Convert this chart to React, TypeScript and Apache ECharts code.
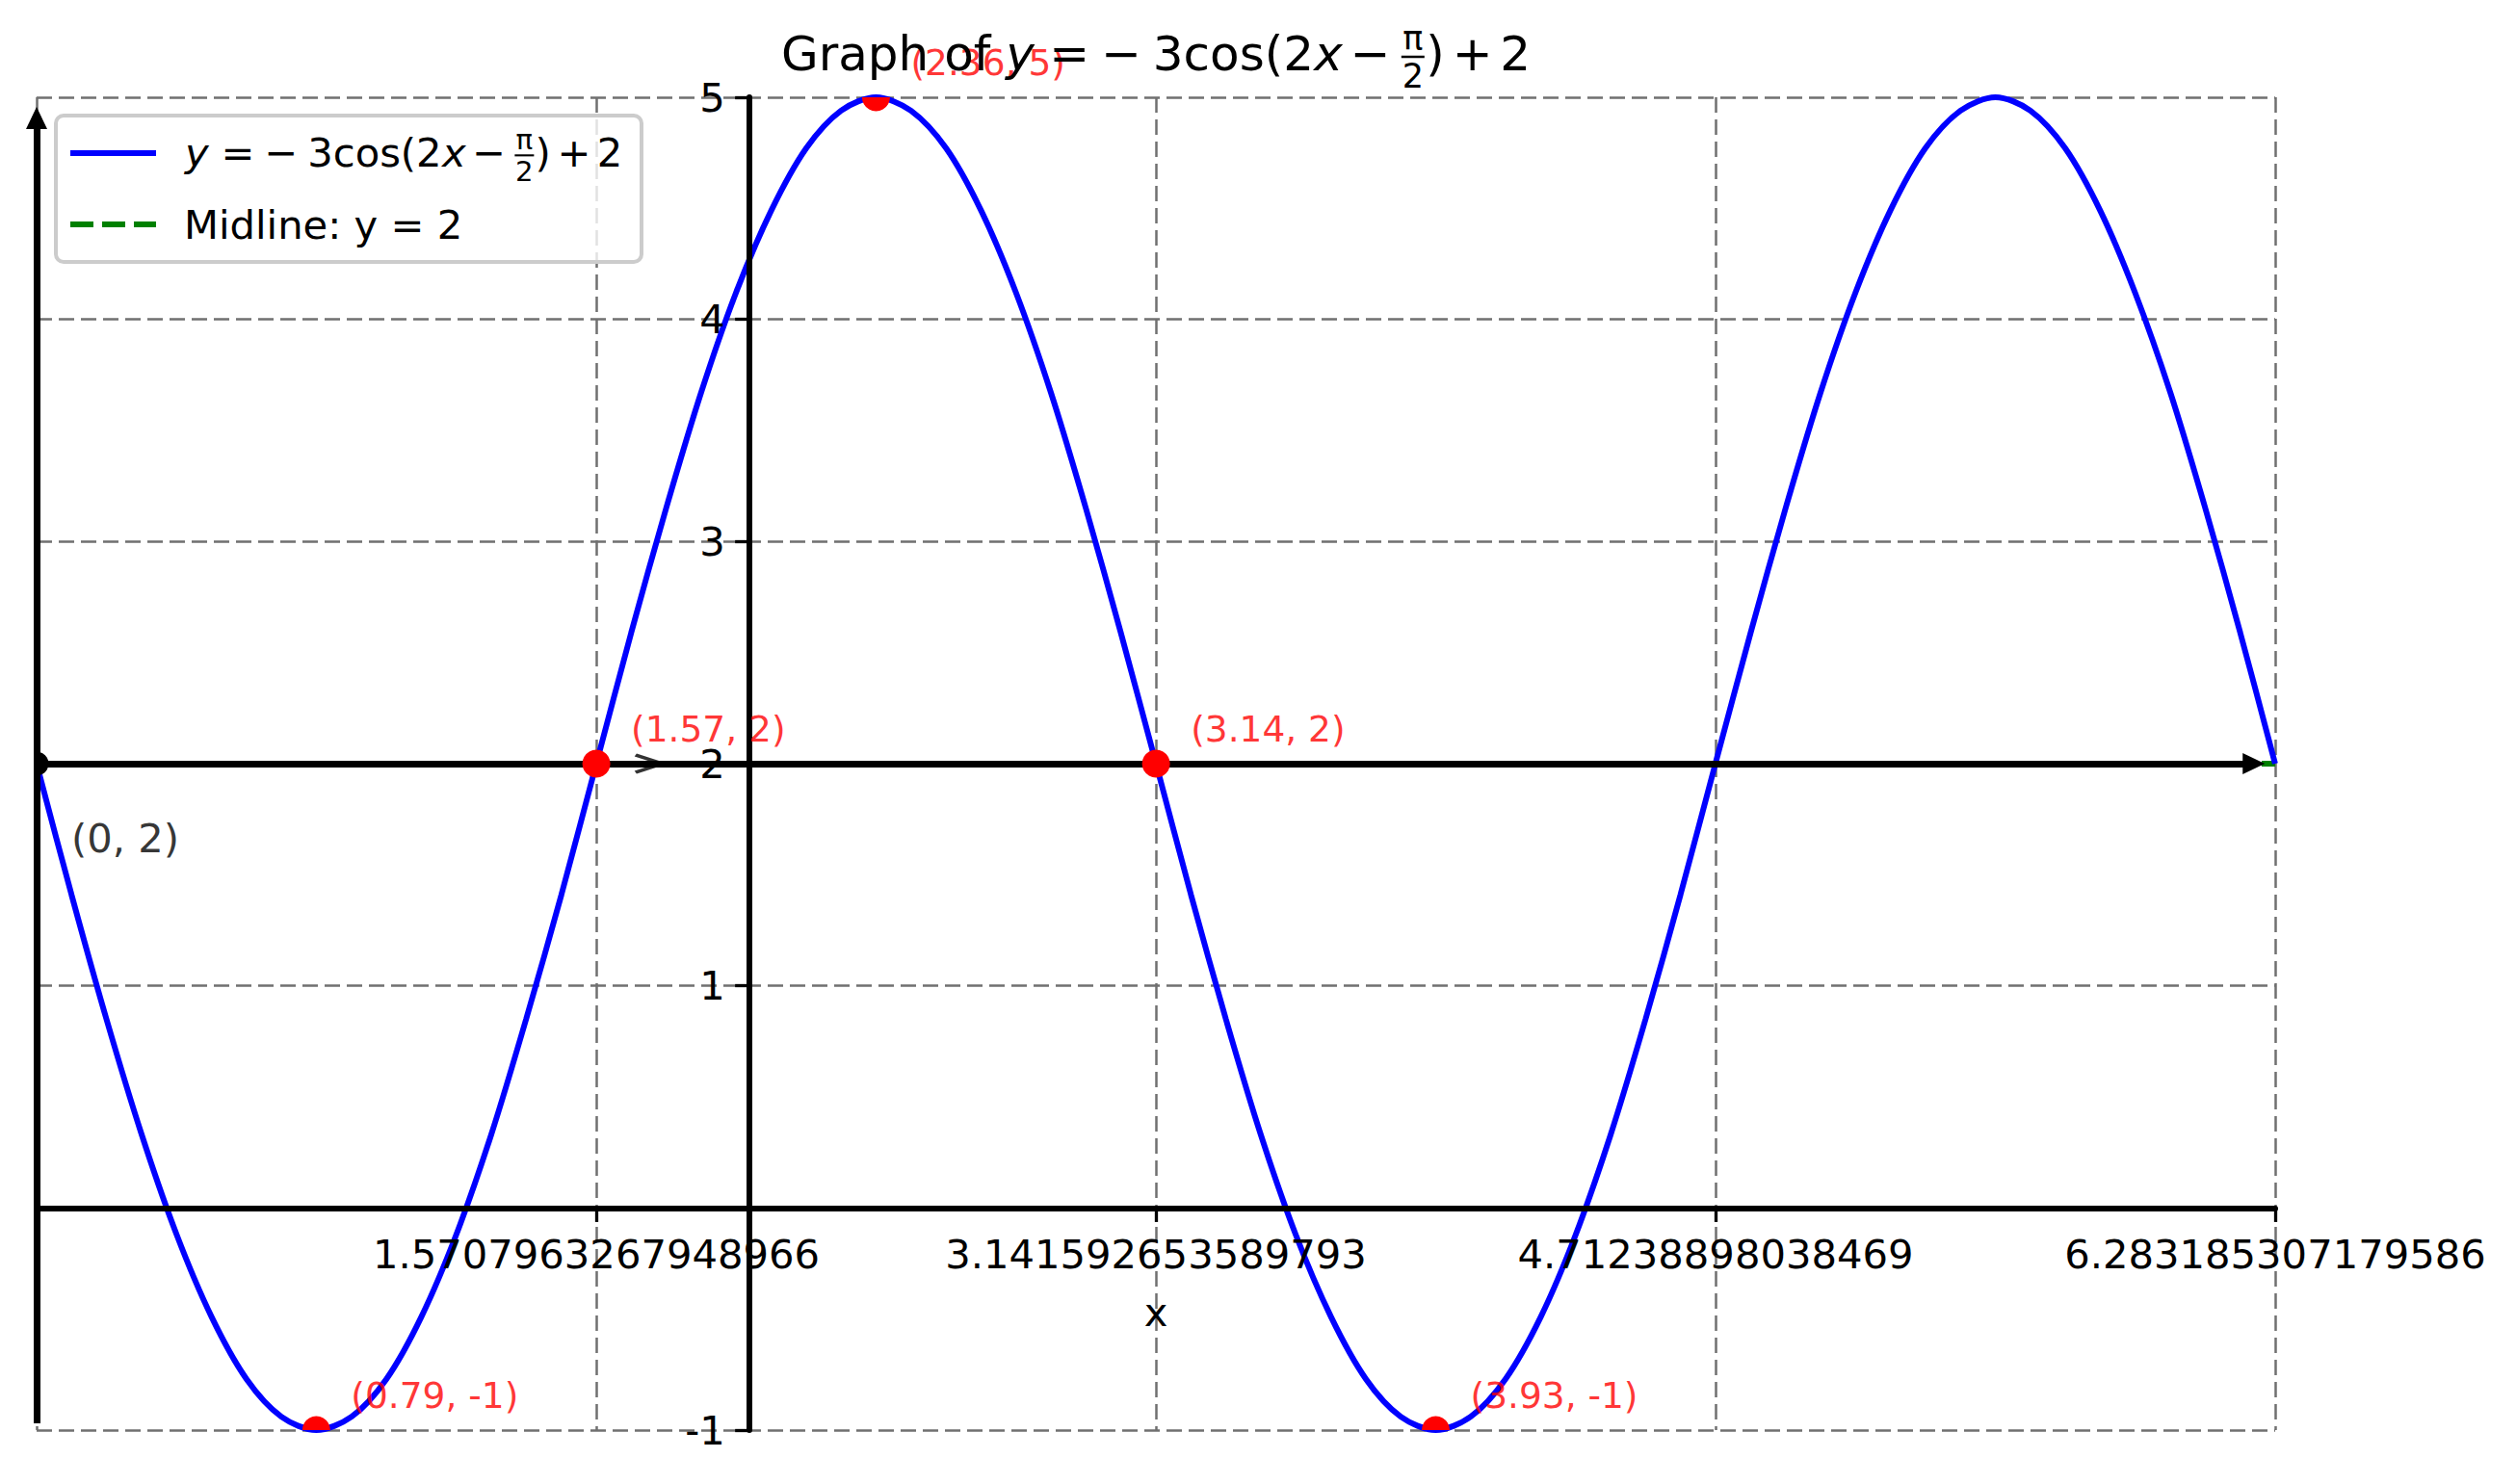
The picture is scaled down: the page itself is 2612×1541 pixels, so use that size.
import React, { useEffect, useRef } from "react";
import * as echarts from "echarts";

// ---------------- data ----------------
const CURVE_X = [0, 0.098, 0.196, 0.295, 0.393, 0.491, 0.589, 0.687, 0.785, 0.884, 0.982, 1.08, 1.178, 1.276, 1.374, 1.473, 1.571, 1.669, 1.767, 1.865, 1.963, 2.062, 2.16, 2.258, 2.356, 2.454, 2.553, 2.651, 2.749, 2.847, 2.945, 3.043, 3.142, 3.24, 3.338, 3.436, 3.534, 3.633, 3.731, 3.829, 3.927, 4.025, 4.123, 4.222, 4.32, 4.418, 4.516, 4.614, 4.712, 4.811, 4.909, 5.007, 5.105, 5.203, 5.301, 5.4, 5.498, 5.596, 5.694, 5.792, 5.89, 5.989, 6.087, 6.185, 6.283];
const CURVE_Y = [2, 1.41, 0.85, 0.33, -0.12, -0.49, -0.77, -0.94, -1, -0.94, -0.77, -0.49, -0.12, 0.33, 0.85, 1.41, 2, 2.59, 3.15, 3.67, 4.12, 4.49, 4.77, 4.94, 5, 4.94, 4.77, 4.49, 4.12, 3.67, 3.15, 2.59, 2, 1.41, 0.85, 0.33, -0.12, -0.49, -0.77, -0.94, -1, -0.94, -0.77, -0.49, -0.12, 0.33, 0.85, 1.41, 2, 2.59, 3.15, 3.67, 4.12, 4.49, 4.77, 4.94, 5, 4.94, 4.77, 4.49, 4.12, 3.67, 3.15, 2.59, 2];

const MIDLINE_X = [0, 6.283];
const MIDLINE_Y = [2, 2];

const KEY_X = [0.785, 1.571, 2.356, 3.142, 3.927];
const KEY_Y = [-1, 2, 5, 2, -1];
const KEY_LABELS = ["(0.79, -1)", "(1.57, 2)", "(2.36, 5)", "(3.14, 2)", "(3.93, -1)"];

const START_X = [0];
const START_Y = [2];
const START_LABELS = ["(0, 2)"];

const CHEVRON_X = [1.719];
const CHEVRON_Y = [2];

const H_ARROW = [[0, 2], [6.223, 2]];
const V_ARROW = [[0, -0.97], [0, 4.907]];

const X_TICK_LABELS = ["1.5707963267948966", "3.141592653589793", "4.71238898038469", "6.283185307179586"];
const X_MIN = 0;
const X_MAX = 2 * Math.PI;
const X_STEP = Math.PI / 2;
const Y_MIN = -1;
const Y_MAX = 5;
const Y_STEP = 1;
const Y_AXIS_AT_X = 2;
const X_AXIS_AT_Y = 0;

const TITLE_PREFIX = "Graph of ";
const X_NAME = "x";
const LEGEND_MIDLINE = "Midline: y = 2";
const EQ_PIECES = [
  { t: "y", dx: 0, italic: true },
  { t: "=", dx: 0.9 },
  { t: "\u2212", dx: 1.98 },
  { t: "3cos(2", dx: 3.05 },
  { t: "x", dx: 6.4, italic: true },
  { t: "\u2212", dx: 7.15 },
  { t: ")", dx: 8.72 },
  { t: "+", dx: 9.27 },
  { t: "2", dx: 10.26 },
];
const FRAC_NUM = "\u03c0";
const FRAC_DEN = "2";

// ---------------- layout ----------------
const FONT = "DejaVu Sans";
const GRID_L = 38;
const GRID_T = 101;
const GRID_W = 2324;
const GRID_H = 1384;

const mid = (baseline: number, fs: number) => baseline - 0.346 * fs;

function formulaElements(originX: number, baseline: number, fs: number, z: number) {
  const els: any[] = [];
  for (const p of EQ_PIECES) {
    els.push({
      type: "text",
      z,
      x: originX + p.dx * fs,
      y: mid(baseline, fs),
      style: {
        text: p.t,
        fontSize: fs,
        fontFamily: FONT,
        fontStyle: p.italic ? "italic" : "normal",
        fill: "#000",
        align: "left",
        verticalAlign: "middle",
        textAlign: "left",
        textVerticalAlign: "middle",
      },
    });
  }
  const cx = originX + 8.45 * fs;
  const ff = fs * 0.7;
  els.push({
    type: "text",
    z,
    x: cx,
    y: mid(baseline - 0.42 * fs, ff),
    style: { text: FRAC_NUM, fontSize: ff, fontFamily: FONT, fill: "#000", align: "center", verticalAlign: "middle", textAlign: "center", textVerticalAlign: "middle" },
  });
  els.push({
    type: "text",
    z,
    x: cx,
    y: mid(baseline + 0.37 * fs, ff),
    style: { text: FRAC_DEN, fontSize: ff, fontFamily: FONT, fill: "#000", align: "center", verticalAlign: "middle", textAlign: "center", textVerticalAlign: "middle" },
  });
  const th = Math.max(2, 0.05 * fs);
  els.push({
    type: "rect",
    z,
    shape: { x: cx - 0.24 * fs, y: baseline - 0.28 * fs - th / 2, width: 0.48 * fs, height: th },
    style: { fill: "#000" },
  });
  return els;
}

export default function App() {
  const ref = useRef<HTMLDivElement>(null);

  useEffect(() => {
    if (!ref.current) return;
    const chart = echarts.init(ref.current, undefined, { renderer: "svg" });

    const gridLine = { show: true, lineStyle: { color: "#707070", width: 2.5, type: [16, 7] as any } };
    const tickStyle = { show: true, length: 14.6, lineStyle: { color: "#000", width: 3.3 } };
    const labelStyle = { color: "#000", fontSize: 41.7, fontFamily: FONT };

    const titleFs = 50;
    const titleWidth = (4.668 + 10.896) * titleFs;
    const titleX0 = GRID_L + GRID_W / 2 - titleWidth / 2;
    const titleBase = 73;
    const legendFs = 41.7;

    const graphics: any[] = [
      {
        type: "text",
        z: 20,
        x: titleX0,
        y: mid(titleBase, titleFs),
        style: { text: TITLE_PREFIX, fontSize: titleFs, fontFamily: FONT, fill: "#000", align: "left", verticalAlign: "middle", textAlign: "left", textVerticalAlign: "middle" },
      },
      ...formulaElements(titleX0 + 4.668 * titleFs, titleBase, titleFs, 20),
      {
        type: "rect",
        z: 20,
        shape: { x: 58, y: 120, width: 608, height: 152, r: 8 },
        style: { fill: "rgba(255,255,255,0.8)", stroke: "#cccccc", lineWidth: 4 },
      },
      {
        type: "line",
        z: 21,
        shape: { x1: 73, y1: 159, x2: 162, y2: 159 },
        style: { stroke: "#0000ff", lineWidth: 6 },
      },
      {
        type: "line",
        z: 21,
        shape: { x1: 73, y1: 233, x2: 162, y2: 233 },
        style: { stroke: "#008000", lineWidth: 6, lineDash: [24, 9] },
      },
      ...formulaElements(192, 173, legendFs, 21),
      {
        type: "text",
        z: 21,
        x: 191,
        y: mid(248, legendFs),
        style: { text: LEGEND_MIDLINE, fontSize: legendFs, fontFamily: FONT, fill: "#000", align: "left", verticalAlign: "middle", textAlign: "left", textVerticalAlign: "middle" },
      },
    ];

    const fmtX = (v: number) => {
      const i = Math.round(v / X_STEP);
      return i >= 1 ? X_TICK_LABELS[i - 1] ?? "" : "";
    };

    const option: any = {
      animation: false,
      textStyle: { fontFamily: FONT },
      legend: { show: false },
      grid: {
        left: GRID_L, top: GRID_T, width: GRID_W, height: GRID_H,
        containLabel: false, outerBoundsMode: "none", show: false,
      },
      xAxis: [
        {
          type: "value", min: X_MIN, max: X_MAX, interval: X_STEP, position: "bottom", z: 0,
          axisLine: { show: false, onZero: false }, axisTick: { show: false }, axisLabel: { show: false },
          splitLine: gridLine,
        },
        {
          type: "value", min: X_MIN, max: X_MAX, interval: X_STEP, position: "bottom", z: 10,
          offset: -(GRID_H * (X_AXIS_AT_Y - Y_MIN)) / (Y_MAX - Y_MIN),
          axisLine: { show: true, onZero: false, lineStyle: { color: "#000", width: 6 } },
          axisTick: tickStyle,
          axisLabel: { ...labelStyle, margin: 27, formatter: fmtX, showMinLabel: true, showMaxLabel: true, interval: 0 },
          splitLine: { show: false },
          name: X_NAME, nameLocation: "middle", nameGap: 87,
          nameTextStyle: { ...labelStyle },
        },
      ],
      yAxis: [
        {
          type: "value", min: Y_MIN, max: Y_MAX, interval: Y_STEP, position: "left", z: 0,
          axisLine: { show: false, onZero: false }, axisTick: { show: false }, axisLabel: { show: false },
          splitLine: gridLine,
        },
        {
          type: "value", min: Y_MIN, max: Y_MAX, interval: Y_STEP, position: "left", z: 10,
          offset: -(GRID_W * (Y_AXIS_AT_X - X_MIN)) / (X_MAX - X_MIN),
          axisLine: { show: true, onZero: false, lineStyle: { color: "#000", width: 6 } },
          axisTick: tickStyle,
          axisLabel: { ...labelStyle, margin: 25, formatter: (v: number) => (v === 0 ? "" : String(v)) },
          splitLine: { show: false },
        },
      ],
      series: [
        {
          type: "line", name: "midline", xAxisIndex: 0, yAxisIndex: 0, z: 3, silent: true,
          data: MIDLINE_X.map((x, i) => [x, MIDLINE_Y[i]]),
          symbol: "none", clip: false,
          lineStyle: { color: "#008000", width: 6, type: [24, 9] },
        },
        {
          type: "line", name: "curve", xAxisIndex: 0, yAxisIndex: 0, z: 3, silent: true,
          data: CURVE_X.map((x, i) => [x, CURVE_Y[i]]),
          symbol: "none", smooth: 0.3, clip: true,
          lineStyle: { color: "#0000ff", width: 6 },
        },
        {
          type: "line", name: "arrows", xAxisIndex: 0, yAxisIndex: 0, z: 4, silent: true, clip: false,
          data: [],
          markLine: {
            silent: true,
            symbol: ["none", "triangle"],
            symbolSize: [22, 23],
            label: { show: false },
            emphasis: { disabled: true },
            lineStyle: { color: "#000", width: 7, type: "solid", opacity: 1 },
            data: [
              [{ coord: H_ARROW[0] }, { coord: H_ARROW[1] }],
              [{ coord: V_ARROW[0] }, { coord: V_ARROW[1] }],
            ],
          },
        },
        {
          type: "custom", name: "keydots", coordinateSystem: "cartesian2d", xAxisIndex: 0, yAxisIndex: 0,
          z: 5, silent: true, clip: true,
          data: KEY_X.map((x, i) => [x, KEY_Y[i]]),
          renderItem: (params: any, api: any) => {
            const p = api.coord([api.value(0), api.value(1)]);
            return { type: "circle", shape: { cx: p[0], cy: p[1], r: 14.5 }, style: { fill: "#ff0000" } };
          },
        },
        {
          type: "custom", name: "startdot", coordinateSystem: "cartesian2d", xAxisIndex: 0, yAxisIndex: 0,
          z: 5, silent: true, clip: true,
          data: START_X.map((x, i) => [x, START_Y[i]]),
          renderItem: (params: any, api: any) => {
            const p = api.coord([api.value(0), api.value(1)]);
            return { type: "circle", shape: { cx: p[0], cy: p[1], r: 12.5 }, style: { fill: "#000000" } };
          },
        },
        {
          type: "scatter", name: "chevron", xAxisIndex: 0, yAxisIndex: 0, z: 6, silent: true, clip: false,
          data: CHEVRON_X.map((x, i) => [x, CHEVRON_Y[i]]),
          symbol: "path://M0,0L28,9L0,18",
          symbolSize: [28, 18],
          itemStyle: { color: "none", borderColor: "#000", borderWidth: 4 },
        },
        {
          type: "scatter", name: "keylabels", xAxisIndex: 0, yAxisIndex: 0, z: 12, silent: true, clip: false,
          data: KEY_X.map((x, i) => [x, KEY_Y[i]]),
          symbolSize: 1,
          itemStyle: { color: "rgba(0,0,0,0)" },
          label: {
            show: true, position: "inside", align: "left", verticalAlign: "middle", offset: [36, -36],
            formatter: (p: any) => KEY_LABELS[p.dataIndex],
            color: "#ff0000", fontSize: 37.5, fontFamily: FONT,
          },
        },
        {
          type: "scatter", name: "startlabel", xAxisIndex: 0, yAxisIndex: 0, z: 12, silent: true, clip: false,
          data: START_X.map((x, i) => [x, START_Y[i]]),
          symbolSize: 1,
          itemStyle: { color: "rgba(0,0,0,0)" },
          label: {
            show: true, position: "inside", align: "left", verticalAlign: "middle", offset: [36, 77],
            formatter: (p: any) => START_LABELS[p.dataIndex],
            color: "#000", fontSize: 41.7, fontFamily: FONT,
          },
        },
      ],
      graphic: graphics,
    };

    chart.setOption(option);
    return () => chart.dispose();
  }, []);

  return (
    <div
      ref={ref}
      style={{ position: "fixed", left: 0, top: 0, width: 2612, height: 1541, background: "#fff" }}
    />
  );
}
